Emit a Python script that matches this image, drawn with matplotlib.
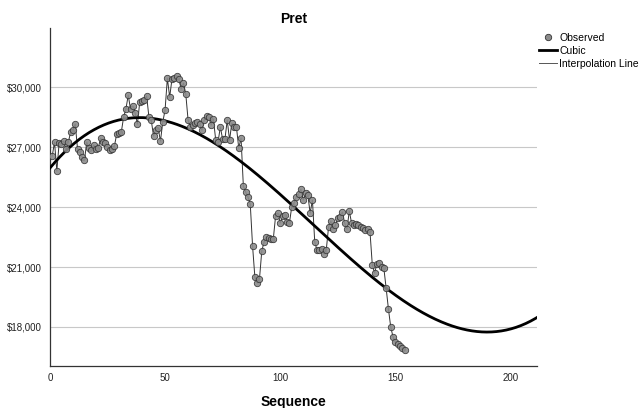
import numpy as np
import matplotlib.pyplot as plt
from matplotlib.lines import Line2D
from matplotlib.ticker import FuncFormatter

plt.rcParams['font.family'] = ['Liberation Sans', 'DejaVu Sans']

# observed price by sequence number
pret = [
    26550, 27250, 25800, 27200, 27150, 27300, 26900, 27250, 27750, 27850,
    28150, 26900, 26750, 26500, 26350, 27250, 26950, 26850, 27100, 26900,
    26950, 27450, 27250, 27200, 27000, 26850, 26900, 27050, 27650, 27700,
    27750, 28500, 28900, 29600, 28900, 29050, 28700, 28150, 29250, 29300,
    29350, 29550, 28500, 28350, 27550, 27850, 27950, 27300, 28250, 28850,
    30450, 29500, 30400, 30450, 30550, 30400, 29900, 30200, 29650, 28350,
    28000, 28100, 28200, 28250, 28150, 27850, 28350, 28550, 28500, 28100,
    28400, 27350, 27250, 28000, 27400, 27400, 28350, 27350, 28200, 28000,
    28000, 26950, 27450, 25050, 24750, 24500, 24150, 22050, 20500, 20200,
    20400, 21800, 22250, 22500, 22450, 22400, 22400, 23550, 23700, 23200,
    23550, 23600, 23250, 23200, 24000, 24200, 24500, 24650, 24900, 24350,
    24700, 24600, 23700, 24350, 22250, 21850, 21850, 21900, 21650, 21850,
    23000, 23300, 22900, 23100, 23450, 23500, 23750, 23200, 22900, 23800,
    23200, 23100, 23150, 23100, 23000, 22950, 22850, 22900, 22750, 21100,
    20700, 21150, 21200, 21000, 20950, 19950, 18900, 18000, 17500, 17250,
    17150, 17050, 16950, 16850,
]
seq = np.arange(1, len(pret) + 1)

# cubic fit, drawn over the whole x range
coef = np.polyfit(seq, pret, 3)
xfit = np.linspace(0, 212, 400)
yfit = np.polyval(coef, xfit)

fig = plt.figure(figsize=(6.4, 4.08), dpi=100)
ax = fig.add_axes([0.078, 0.103, 0.761, 0.828])

ax.plot(xfit, yfit, color='black', lw=2, zorder=3)
ax.plot(seq, pret, color='#333333', lw=0.7, zorder=2)
ax.plot(seq, pret, 'o', ms=4.6, mfc='#8c8c8c', mec='#333333', mew=0.6,
        alpha=0.9, zorder=4)

ax.set_xlim(0, 211.5)
ax.set_ylim(16050, 32950)
ax.set_xticks([0, 50, 100, 150, 200])
ax.set_yticks([18000, 21000, 24000, 27000, 30000])
ax.yaxis.set_major_formatter(FuncFormatter(lambda v, p: f'${v:,.0f}'))
ax.tick_params(length=0, labelsize=7, colors='#222222')
ax.tick_params(axis='x', pad=5)
ax.tick_params(axis='y', pad=6)
ax.grid(axis='y', color='#c8c8c8', lw=0.8)
ax.set_axisbelow(True)
for s in ['top', 'right']:
    ax.spines[s].set_visible(False)
for s in ['left', 'bottom']:
    ax.spines[s].set_color('#333333')
    ax.spines[s].set_linewidth(0.9)

ax.set_title('Pret', fontsize=10, fontweight='bold', pad=4)
ax.set_xlabel('Sequence', fontsize=10, fontweight='bold', labelpad=9)

handles = [
    Line2D([], [], ls='none', marker='o', ms=4.6, mfc='#8c8c8c', mec='#333333', mew=0.6),
    Line2D([], [], color='black', lw=2),
    Line2D([], [], color='#555555', lw=0.7),
]
fig.legend(handles, ['Observed', 'Cubic', 'Interpolation Line'],
           loc='upper left', bbox_to_anchor=(0.835, 0.93), frameon=False,
           fontsize=7.5, handlelength=1.8, handletextpad=0.2,
           labelspacing=0.3, borderaxespad=0)

fig.savefig('out.png', dpi=100)
